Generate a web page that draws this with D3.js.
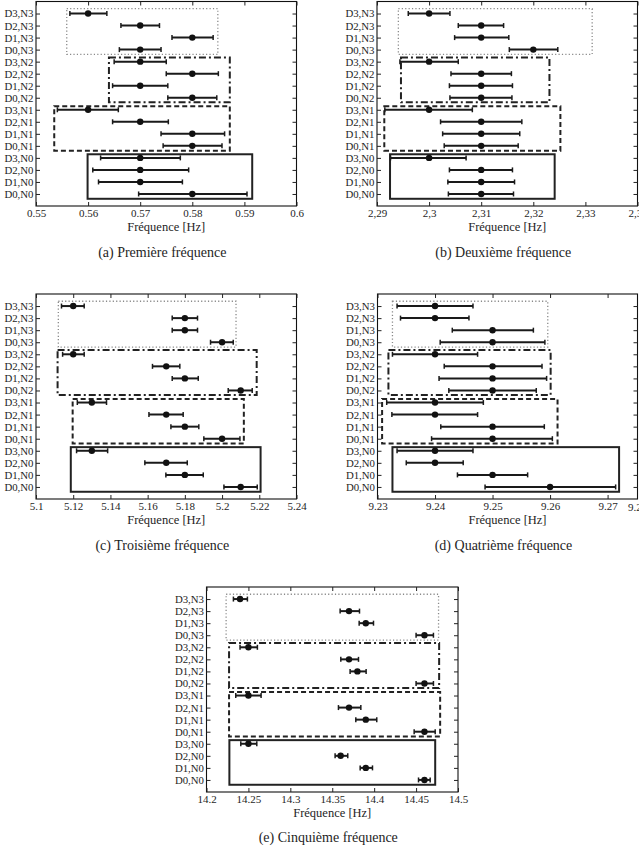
<!DOCTYPE html>
<html><head><meta charset="utf-8">
<script src="https://cdn.jsdelivr.net/npm/d3@7"></script>
<style>
html,body{margin:0;padding:0;background:#fff;}
svg{display:block;}
text{font-family:"Liberation Serif","Times New Roman",serif;fill:#1e1e1e;}
</style></head>
<body>
<script>
// Row labels, top to bottom
const rowLabels = ["D3,N3","D2,N3","D1,N3","D0,N3","D3,N2","D2,N2","D1,N2","D0,N2",
                   "D3,N1","D2,N1","D1,N1","D0,N1","D3,N0","D2,N0","D1,N0","D0,N0"];
const groups = ["N3","N2","N1","N0"];
// group box vertical extent in row units (row D0,N0 = 1 ... D3,N3 = 16)
const groupBoxBottom = [12.6, 8.62, 4.6, 0.6];
const groupBoxTop = [16.4, 12.35, 8.3, 4.3];

// (a) Première fréquence
const centerA = [0.56,0.57,0.58,0.57,0.57,0.58,0.57,0.58,0.56,0.57,0.58,0.58,0.57,0.57,0.57,0.58];
const lowA  = [0.5565,0.5663,0.5761,0.566,0.565,0.575,0.5647,0.5753,0.5541,0.5647,0.574,0.5744,0.5624,0.5609,0.562,0.5697];
const highA = [0.5636,0.5737,0.584,0.574,0.575,0.585,0.5753,0.5847,0.5658,0.5754,0.5862,0.5857,0.5777,0.5793,0.5781,0.5905];
const boxLoA = [0.5559,0.564,0.5535,0.5599];
const boxHiA = [0.5849,0.5872,0.5872,0.5915];
const ticksA = [0.55,0.56,0.57,0.58,0.59,0.6];
const tickLabelsA = ["0.55","0.56","0.57","0.58","0.59","0.6"];

// (b) Deuxième fréquence
const centerB = [2.30,2.31,2.31,2.32,2.30,2.31,2.31,2.31,2.30,2.31,2.31,2.31,2.30,2.31,2.31,2.31];
const lowB  = [2.296,2.3056,2.3049,2.3154,2.2944,2.3042,2.3039,2.304,2.2915,2.3022,2.3026,2.3029,2.2926,2.3039,2.3036,2.3037];
const highB = [2.304,2.3143,2.3153,2.3247,2.3056,2.3158,2.316,2.3159,2.3083,2.3178,2.3174,2.3171,2.3071,2.316,2.3164,2.3162];
const boxLoB = [2.2941,2.2946,2.2914,2.2925];
const boxHiB = [2.3313,2.3231,2.3252,2.3241];
const ticksB = [2.29,2.30,2.31,2.32,2.33,2.34];
const tickLabelsB = ["2,29","2,3","2,31","2,32","2,33","2,34"];

// (c) Troisième fréquence
const centerC = [5.12,5.18,5.18,5.20,5.12,5.17,5.18,5.21,5.13,5.17,5.18,5.20,5.13,5.17,5.18,5.21];
const lowC  = [5.1137,5.1732,5.1732,5.1938,5.1143,5.1626,5.1732,5.2033,5.1222,5.1607,5.1725,5.1902,5.1218,5.1585,5.1698,5.201];
const highC = [5.1259,5.1868,5.1868,5.206,5.1259,5.1773,5.1872,5.2162,5.1379,5.1791,5.1875,5.2096,5.1385,5.1813,5.1899,5.2189];
const boxLoC = [5.112,5.1116,5.1197,5.1187];
const boxHiC = [5.2075,5.2186,5.2117,5.2207];
const ticksC = [5.1,5.12,5.14,5.16,5.18,5.2,5.22,5.24];
const tickLabelsC = ["5.1","5.12","5.14","5.16","5.18","5.2","5.22","5.24"];

// (d) Quatrième fréquence
const centerD = [9.24,9.24,9.25,9.25,9.24,9.25,9.25,9.25,9.24,9.24,9.25,9.25,9.24,9.24,9.25,9.26];
const lowD  = [9.2334,9.234,9.243,9.2409,9.2326,9.2416,9.2407,9.2424,9.2316,9.2325,9.241,9.2394,9.2334,9.235,9.2439,9.2487];
const highD = [9.2466,9.2459,9.2571,9.2591,9.2474,9.2586,9.2594,9.2576,9.2484,9.2474,9.259,9.2604,9.2466,9.2449,9.2561,9.2714];
const boxLoD = [9.2326,9.2319,9.2308,9.2326];
const boxHiD = [9.2596,9.2601,9.2613,9.272];
const ticksD = [9.23,9.24,9.25,9.26,9.27];
const tickLabelsD = ["9.23","9.24","9.25","9.26","9.27"];
const extraLabelD = "9.28";

// (e) Cinquième fréquence
const centerE = [14.24,14.37,14.39,14.46,14.25,14.37,14.38,14.46,14.25,14.37,14.39,14.46,14.25,14.36,14.39,14.46];
const lowE  = [14.2321,14.3594,14.3821,14.45,14.24,14.3602,14.3713,14.45,14.2349,14.3574,14.3781,14.4477,14.2409,14.3534,14.3833,14.4529];
const highE = [14.2488,14.3825,14.3992,14.4707,14.2607,14.3813,14.3904,14.4707,14.2651,14.3841,14.4031,14.4728,14.26,14.3685,14.398,14.4668];
const boxLoE = [14.2234,14.2269,14.2269,14.2273];
const boxHiE = [14.4768,14.4775,14.4787,14.4728];
const ticksE = [14.2,14.25,14.3,14.35,14.4,14.45,14.5];
const tickLabelsE = ["14.2","14.25","14.3","14.35","14.4","14.45","14.5"];

const captions = ["(a)  Première fréquence","(b)  Deuxième fréquence","(c)  Troisième fréquence","(d)  Quatrième fréquence","(e)  Cinquième fréquence"];
const axisTitle = "Fréquence [Hz]";

const panels = [
  {c:centerA,lo:lowA,hi:highA,bl:boxLoA,bh:boxHiA,dom:[0.55,0.6],ticks:ticksA,labels:tickLabelsA,cap:captions[0],x0:36,x1:296.5,y0:1.5,y1:206,capY:252},
  {c:centerB,lo:lowB,hi:highB,bl:boxLoB,bh:boxHiB,dom:[2.29,2.34],ticks:ticksB,labels:tickLabelsB,cap:captions[1],x0:377,x1:637.5,y0:1.5,y1:206,capY:252},
  {c:centerC,lo:lowC,hi:highC,bl:boxLoC,bh:boxHiC,dom:[5.1,5.24],ticks:ticksC,labels:tickLabelsC,cap:captions[2],x0:36,x1:296.5,y0:294,y1:499,capY:545},
  {c:centerD,lo:lowD,hi:highD,bl:boxLoD,bh:boxHiD,dom:[9.23,9.2752],ticks:ticksD,labels:tickLabelsD,cap:captions[3],x0:377.5,x1:637.5,y0:294,y1:499,capY:545,extra:extraLabelD},
  {c:centerE,lo:lowE,hi:highE,bl:boxLoE,bh:boxHiE,dom:[14.2,14.5],ticks:ticksE,labels:tickLabelsE,cap:captions[4],x0:206.5,x1:458,y0:587,y1:792,capY:837}
];

const boxStyles = [
  {stroke:"#8a8a8a",width:1.3,dash:"1.2,2.2"},
  {stroke:"#222",width:2,dash:"7,3,2,3"},
  {stroke:"#222",width:2,dash:"5,3"},
  {stroke:"#222",width:2,dash:null}
];

const svg = d3.select("body").append("svg").attr("width",639).attr("height",846);

panels.forEach(p=>{
  const x = d3.scaleLinear().domain(p.dom).range([p.x0,p.x1]);
  const y = d3.scaleLinear().domain([0,17]).range([p.y1,p.y0]);
  const g = svg.append("g");
  const rowVal = i => 16 - i;

  // frame
  g.append("rect").attr("x",p.x0).attr("y",p.y0).attr("width",p.x1-p.x0).attr("height",p.y1-p.y0)
    .attr("fill","none").attr("stroke","#111").attr("stroke-width",1.1);

  // x ticks (bottom & top) via axis
  const axB = d3.axisBottom(x).tickValues(p.ticks).tickFormat((d,i)=>p.labels[i]).tickSizeInner(-4).tickSizeOuter(0).tickPadding(8);
  const gb = g.append("g").attr("transform",`translate(0,${p.y1})`).call(axB);
  gb.attr("font-family",null);
  gb.select(".domain").remove();
  gb.selectAll("line").attr("stroke","#222");
  gb.selectAll("text").attr("font-size",11).attr("dy","0.3em");
  const axT = d3.axisTop(x).tickValues(p.ticks).tickFormat("").tickSizeInner(-4).tickSizeOuter(0);
  const gt = g.append("g").attr("transform",`translate(0,${p.y0})`).call(axT);
  gt.select(".domain").remove(); gt.selectAll("line").attr("stroke","#222");

  if(p.extra){
    g.append("text").attr("x",p.x1).attr("y",p.y1+12.3).attr("text-anchor","middle")
      .attr("font-size",11).text(p.extra);
  }

  // y ticks (left & right)
  const yVals = d3.range(16).map(rowVal);
  const axL = d3.axisLeft(y).tickValues(yVals).tickFormat(v=>rowLabels[16-v]).tickSizeInner(-4).tickSizeOuter(0).tickPadding(2.5);
  const gl = g.append("g").attr("transform",`translate(${p.x0},0)`).call(axL);
  gl.attr("font-family",null);
  gl.select(".domain").remove(); gl.selectAll("line").attr("stroke","#222");
  gl.selectAll("text").attr("font-size",10.8);
  const axR = d3.axisRight(y).tickValues(yVals).tickFormat("").tickSizeInner(-4).tickSizeOuter(0);
  const gr = g.append("g").attr("transform",`translate(${p.x1},0)`).call(axR);
  gr.select(".domain").remove(); gr.selectAll("line").attr("stroke","#222");

  // group boxes
  groups.forEach((nm,k)=>{
    const st = boxStyles[k];
    g.append("rect").attr("x",x(p.bl[k])).attr("width",x(p.bh[k])-x(p.bl[k]))
      .attr("y",y(groupBoxTop[k])).attr("height",y(groupBoxBottom[k])-y(groupBoxTop[k]))
      .attr("fill","none").attr("stroke",st.stroke).attr("stroke-width",st.width)
      .attr("stroke-dasharray",st.dash);
  });

  // error bars
  const rows = d3.range(16);
  g.selectAll(".eb").data(rows).join("line")
    .attr("x1",i=>x(p.lo[i])).attr("x2",i=>x(p.hi[i]))
    .attr("y1",i=>y(rowVal(i))).attr("y2",i=>y(rowVal(i)))
    .attr("stroke","#1a1a1a").attr("stroke-width",2);
  ["lo","hi"].forEach(key=>{
    g.selectAll(".cap"+key).data(rows).join("line")
      .attr("x1",i=>x(p[key][i])).attr("x2",i=>x(p[key][i]))
      .attr("y1",i=>y(rowVal(i))-2.5).attr("y2",i=>y(rowVal(i))+2.5)
      .attr("stroke","#1a1a1a").attr("stroke-width",1.5);
  });
  g.selectAll(".dot").data(rows).join("circle")
    .attr("cx",i=>x(p.c[i])).attr("cy",i=>y(rowVal(i))).attr("r",3.2).attr("fill","#111");

  // axis title and caption
  const cx = (p.x0+p.x1)/2;
  g.append("text").attr("x",cx).attr("y",p.y1+24.5).attr("text-anchor","middle").attr("font-size",12.5).text(axisTitle);
  g.append("text").attr("x",cx-4).attr("y",p.capY+4.5).attr("text-anchor","middle").attr("font-size",14).text(p.cap);
});
</script>
</body></html>
